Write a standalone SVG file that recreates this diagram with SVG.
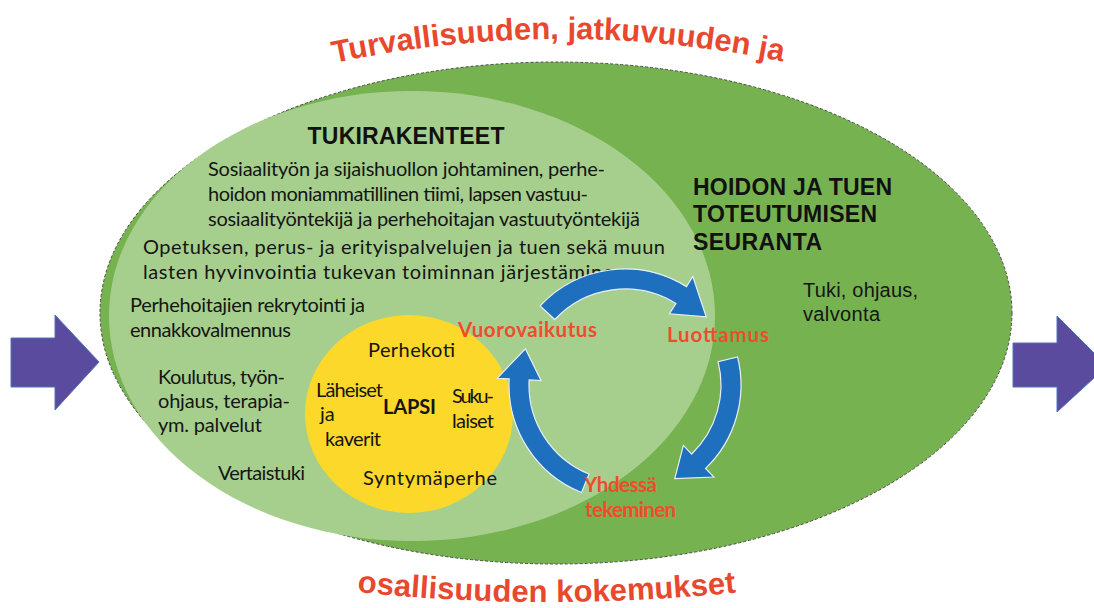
<svg xmlns="http://www.w3.org/2000/svg" width="1094" height="608" viewBox="0 0 1094 608">
<style>
.arc{font-family:"Liberation Sans",Arial,sans-serif;font-weight:bold;font-size:31px;fill:#e8482e}
.cal{font-family:Lato,"Liberation Sans",sans-serif;font-size:20px;fill:#151515}
.red{font-family:Lato,"Liberation Sans",sans-serif;font-weight:bold;font-size:20.5px;fill:#ef4c2e}
.hd{font-family:"Liberation Sans",Arial,sans-serif;font-weight:bold;font-size:23px;fill:#111}
.ar{font-family:"Liberation Sans",Arial,sans-serif;font-size:20px;fill:#151515}
.purple{fill:#5b4b9e;stroke:#4f73b8;stroke-width:1}
.blue{fill:#1e6fbe;stroke:#e6eef8;stroke-width:1.2}
</style>
<defs>
<path id="topArc" d="M 334 63 Q 560 15 790 63"/>
<path id="botArc" d="M 357 592 Q 548 612 742 592"/>
</defs>
<rect width="1094" height="608" fill="#ffffff"/>

<g id="outer-ellipse">
<ellipse cx="556" cy="313" rx="456" ry="251" fill="#77b250" stroke="#4a4a4a" stroke-width="1" stroke-dasharray="3 2"/>
</g>

<g id="tukirakenteet">
<ellipse cx="412" cy="316" rx="303" ry="225" fill="#a6cf8e"/>
<text class="hd" x="406" y="144" text-anchor="middle" font-size="24" textLength="197">TUKIRAKENTEET</text>
<text class="cal" x="208" y="176" textLength="397">Sosiaalityön ja sijaishuollon johtaminen, perhe-</text>
<text class="cal" x="208" y="201" textLength="380">hoidon moniammatillinen tiimi, lapsen vastuu-</text>
<text class="cal" x="208" y="226" textLength="432">sosiaalityöntekijä ja perhehoitajan vastuutyöntekijä</text>
<text class="cal" x="143" y="254" textLength="522">Opetuksen, perus- ja erityispalvelujen ja tuen sekä muun</text>
<text class="cal" x="143" y="279" textLength="482">lasten hyvinvointia tukevan toiminnan järjestäminen</text>
<text class="cal" x="130" y="312" textLength="235">Perhehoitajien rekrytointi ja</text>
<text class="cal" x="130" y="337" textLength="161">ennakkovalmennus</text>
<text class="cal" x="158" y="384" textLength="127">Koulutus, työn-</text>
<text class="cal" x="158" y="408" textLength="132">ohjaus, terapia-</text>
<text class="cal" x="158" y="432" textLength="104">ym. palvelut</text>
<text class="cal" x="218" y="480" textLength="87">Vertaistuki</text>
</g>

<g id="lapsi">
<ellipse cx="409" cy="414" rx="104" ry="99" fill="#fcd82a"/>
<text class="cal" x="368" y="357" textLength="87">Perhekoti</text>
<text class="cal" x="316" y="397" textLength="67">Läheiset</text>
<text class="cal" x="320" y="421">ja</text>
<text class="cal" x="325" y="446" textLength="56">kaverit</text>
<text class="cal" x="383" y="414" font-weight="bold" textLength="53">LAPSI</text>
<text class="cal" x="452" y="403" textLength="42">Suku-</text>
<text class="cal" x="452" y="428" textLength="42">laiset</text>
<text class="cal" x="363" y="485" textLength="134">Syntymäperhe</text>
</g>

<g id="seuranta">
<text class="hd" x="693" y="195" textLength="199">HOIDON JA TUEN</text>
<text class="hd" x="693" y="222" textLength="184">TOTEUTUMISEN</text>
<text class="hd" x="693" y="250" textLength="129">SEURANTA</text>
<text class="ar" x="803" y="297" textLength="115">Tuki, ohjaus,</text>
<text class="ar" x="803" y="321" textLength="77">valvonta</text>
</g>

<g id="connectors">
<path class="blue" d="M 540.16 305.89 A 116 116 0 0 1 686.47 286.63 L 692.83 276.46 L 706.2 316.86 L 669.51 313.77 L 675.87 303.59 A 96 96 0 0 0 554.79 319.53 Z"/>
<path class="blue" d="M 737.55 356.94 A 116 116 0 0 1 705.58 468.44 L 713.92 477.07 L 674.77 478.59 L 683.35 445.42 L 691.69 454.05 A 96 96 0 0 0 718.15 361.78 Z"/>
<path class="blue" d="M 581.55 492.55 A 116 116 0 0 1 509.16 378.93 L 497.18 378.30 L 525.39 348.75 L 541.12 380.61 L 529.13 379.98 A 96 96 0 0 0 589.04 474.01 Z"/>
</g>

<g id="cycle-labels">
<text class="red" x="458" y="337" textLength="139">Vuorovaikutus</text>
<text class="red" x="667" y="342" textLength="102">Luottamus</text>
<text class="red" x="584" y="492" textLength="73">Yhdessä</text>
<text class="red" x="585" y="517" textLength="91">tekeminen</text>
</g>

<g id="arrow-in">
<path class="purple" d="M 11 338 L 55 338 L 55 315 L 99 362 L 55 410 L 55 387 L 11 387 Z"/>
</g>
<g id="arrow-out">
<path class="purple" d="M 1013 343 L 1057 343 L 1057 316 L 1107 366 L 1057 412 L 1057 387 L 1013 387 Z"/>
</g>

<g id="title-top">
<text class="arc"><textPath href="#topArc" textLength="452">Turvallisuuden, jatkuvuuden ja</textPath></text>
</g>
<g id="title-bottom">
<text class="arc"><textPath href="#botArc" textLength="380">osallisuuden kokemukset</textPath></text>
</g>
</svg>
